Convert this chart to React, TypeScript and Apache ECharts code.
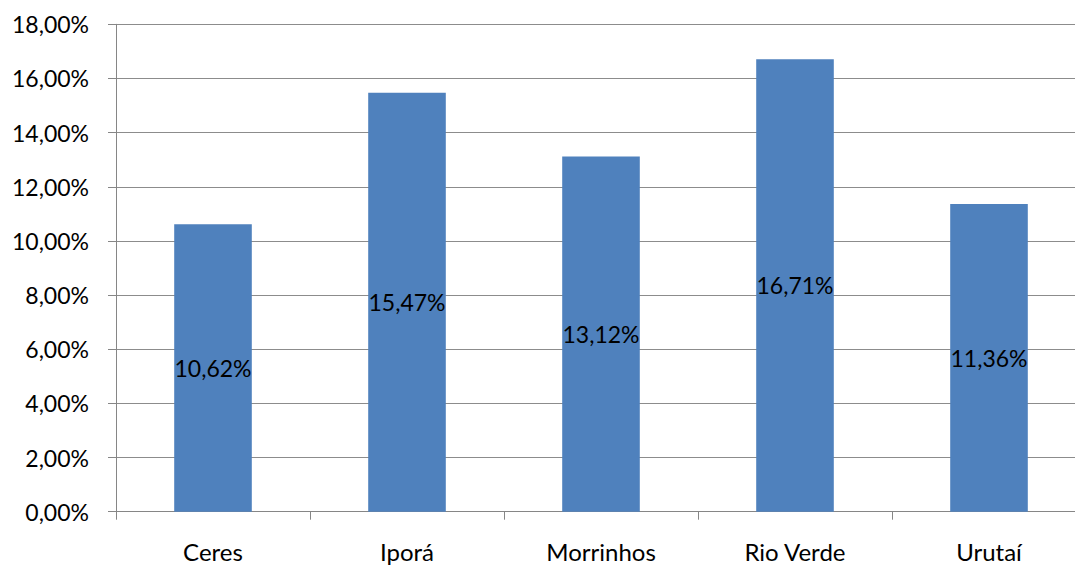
import React, { useEffect, useRef } from "react";
import * as echarts from "echarts";

const categories = ["Ceres", "Iporá", "Morrinhos", "Rio Verde", "Urutaí"];
const values = [10.62, 15.47, 13.12, 16.71, 11.36];
const yMin = 0;
const yMax = 18;
const yInterval = 2;

const fmt = (v: number) => v.toFixed(2).replace(".", ",") + "%";

export default function App() {
  const ref = useRef<HTMLDivElement>(null);
  useEffect(() => {
    if (!ref.current) return;
    const chart = echarts.init(ref.current, undefined, { renderer: "svg" });
    const font = "Lato, 'Open Sans', sans-serif";
    chart.setOption({
      animation: false,
      backgroundColor: "#ffffff",
      grid: { left: 116, right: 14, top: 24.3, bottom: 53.3, containLabel: false },
      xAxis: {
        type: "category",
        data: categories,
        boundaryGap: true,
        axisLine: { show: true, lineStyle: { color: "#868686", width: 1 } },
        axisTick: { show: true, length: 8, lineStyle: { color: "#868686" } },
        axisLabel: { color: "#000", fontFamily: font, fontSize: 24, margin: 28 },
      },
      yAxis: {
        type: "value",
        min: yMin,
        max: yMax,
        interval: yInterval,
        axisLine: { show: true, lineStyle: { color: "#868686", width: 1 } },
        axisTick: { show: true, length: 8, lineStyle: { color: "#868686" } },
        splitLine: { show: true, lineStyle: { color: "#8c8c8c", width: 1 } },
        axisLabel: {
          color: "#000",
          fontFamily: font,
          fontSize: 23,
          margin: 27,
          formatter: (v: number) => fmt(v),
        },
      },
      series: [
        {
          type: "bar",
          data: values,
          barWidth: "40%",
          itemStyle: { color: "#4f81bd" },
          label: {
            show: true,
            position: "inside",
            color: "#000",
            fontFamily: font,
            fontSize: 23,
            formatter: (p: any) => fmt(p.value),
          },
        },
      ],
    });
    return () => chart.dispose();
  }, []);
  return (
    <div
      style={{
        position: "fixed",
        left: 0,
        top: 0,
        width: 1075,
        height: 565,
        overflow: "hidden",
        background: "#fff",
      }}
    >
      <div ref={ref} style={{ width: 1100, height: 565 }} />
    </div>
  );
}
